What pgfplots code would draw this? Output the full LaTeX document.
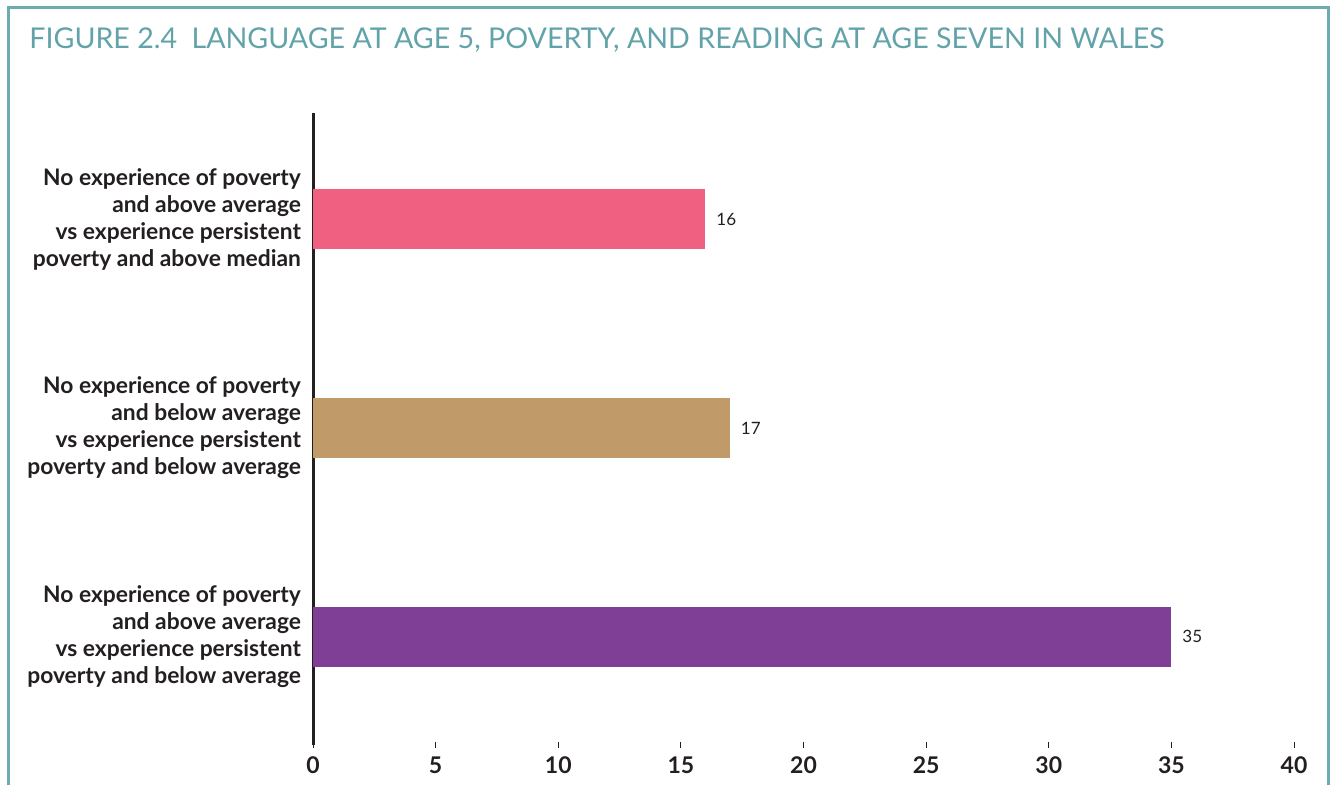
\documentclass[border=0pt]{standalone}
\usepackage{pgfplots}
\pgfplotsset{compat=1.18}
\usepackage{fontspec}
\setmainfont{Lato}
\definecolor{framecol}{HTML}{6DAAB1}
\definecolor{titlecol}{HTML}{62A3AA}
\definecolor{barpink}{HTML}{F06080}
\definecolor{bartan}{HTML}{C19A6A}
\definecolor{barpurple}{HTML}{7F3F97}
\definecolor{txt}{HTML}{231F20}

\begin{document}
\begin{tikzpicture}[x=1pt,y=1pt]
\useasboundingbox (0,0) rectangle (665.5,392.5);
\draw[framecol, line width=1.5pt] (4,-2) -- (4,388.5) -- (664,388.5) -- (664,-2);
\node[anchor=west, text=titlecol, font=\fontsize{14.3}{16}\selectfont, inner sep=0pt]
  at (14.5,372.5) {FIGURE 2.4\hspace{0.5em}LANGUAGE AT AGE 5, POVERTY, AND READING AT AGE SEVEN IN WALES};
\begin{axis}[
    at={(156.5pt,20pt)}, anchor=south west,
    width=490.5pt, height=316pt, scale only axis,
    xbar, bar width=30pt,
    xmin=0, xmax=40, ymin=-0.52, ymax=2.51,
    xtick={0,5,...,40},
    ytick={0,1,2},
    yticklabels={
      {No experience of poverty\\and above average\\vs experience persistent\\poverty and below average},
      {No experience of poverty\\and below average\\vs experience persistent\\poverty and below average},
      {No experience of poverty\\and above average\\vs experience persistent\\poverty and above median}},
    yticklabel style={align=right, font=\bfseries\fontsize{11.4}{13.5}\selectfont, text=txt, xshift=-1pt},
    xticklabel style={font=\bfseries\fontsize{11.5}{13}\selectfont, text=txt, yshift=-1pt},
    /pgf/number format/assume math mode=true,
    axis x line*=bottom, axis y line*=left,
    x axis line style={draw=none},
    y axis line style={txt, line width=1.5pt, -},
    xtick style={txt, line width=0.5pt}, ytick style={draw=none},
    tick align=center, major tick length=3pt,
    nodes near coords,
    every node near coord/.append style={anchor=west, xshift=2pt, text=txt, font=\fontsize{8.5}{10}\selectfont},
    clip=false,
]
\addplot[draw=none, fill=barpurple, bar shift=0pt] coordinates {(35,0)};
\addplot[draw=none, fill=bartan, bar shift=0pt] coordinates {(17,1)};
\addplot[draw=none, fill=barpink, bar shift=0pt] coordinates {(16,2)};
\end{axis}
\end{tikzpicture}
\end{document}
